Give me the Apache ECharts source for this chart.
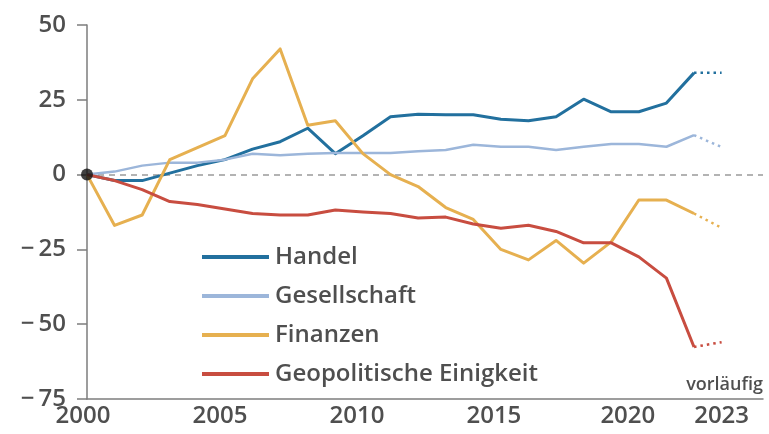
<!DOCTYPE html>
<html>
<head>
<meta charset="utf-8">
<script src="https://cdn.jsdelivr.net/npm/echarts@6/dist/echarts.min.js"></script>
<style>
  html, body { margin: 0; padding: 0; background: #fff; }
  #chart { width: 769px; height: 434px; }
</style>
</head>
<body>
<div id="chart"></div>
<script>
// Index values per year, 2000–2022 (solid), plus a provisional 2023 value (dotted)
const years = [2000, 2001, 2002, 2003, 2004, 2005, 2006, 2007, 2008, 2009, 2010, 2011,
               2012, 2013, 2014, 2015, 2016, 2017, 2018, 2019, 2020, 2021, 2022];

const handel = [0, -2, -2, 0.5, 3, 5, 8.5, 11, 15.5, 7, 13, 19.3,
                20.2, 20, 20, 18.5, 18, 19.3, 25.2, 21, 21, 23.9, 34];
const gesellschaft = [0, 1, 3, 4, 4, 5, 7, 6.5, 7, 7.2, 7.2, 7.2,
                      7.8, 8.2, 10, 9.3, 9.3, 8.2, 9.3, 10.2, 10.2, 9.3, 13.2];
const finanzen = [0, -17, -13.5, 5, 9, 13, 32, 42, 16.5, 18, 7, 0,
                  -4, -11, -15, -25, -28.5, -22, -29.6, -22.5, -8.5, -8.5, -13];
const geopolitik = [0, -2, -5, -9, -10, -11.5, -13, -13.5, -13.5, -11.8, -12.5, -13,
                    -14.5, -14.2, -16.5, -17.9, -16.9, -19, -22.8, -22.8, -27.5, -34.6, -57.6];

// Provisional values for 2023
const provisionalYear = 2023;
const handel2023 = 34;
const gesellschaft2023 = 9.2;
const finanzen2023 = -17.8;
const geopolitik2023 = -56;

const seriesNames = ['Handel', 'Gesellschaft', 'Finanzen', 'Geopolitische Einigkeit'];
const colors = ['#22709e', '#9cb6da', '#e6b050', '#c84d40'];

const xLabels = [2000, 2005, 2010, 2015, 2020, 2023];
const yTicks = [-75, -50, -25, 0, 25, 50];

const solidData = [handel, gesellschaft, finanzen, geopolitik];
const provisionalData = [handel2023, gesellschaft2023, finanzen2023, geopolitik2023];

const pairs = (vals) => years.map((y, i) => [y, vals[i]]);

const textColor = '#4f4f4f';
const font = 'Open Sans';

const series = [];
solidData.forEach((vals, i) => {
  series.push({
    name: seriesNames[i],
    type: 'line',
    data: pairs(vals),
    symbol: 'none',
    color: colors[i],
    lineStyle: { width: i === 1 ? 2.5 : 3, color: colors[i], join: 'round' },
    z: 3 + i,
    markLine: i === 0 ? {
      silent: true,
      symbol: ['none', 'none'],
      label: { show: false },
      lineStyle: { type: [6, 5], color: '#9a9a9a', width: 1.5 },
      data: [{ yAxis: 0 }],
      z: 1
    } : undefined
  });
  // dotted provisional segment
  series.push({
    name: seriesNames[i] + ' (vorläufig)',
    type: 'line',
    data: [[years[years.length - 1], vals[vals.length - 1]], [provisionalYear, provisionalData[i]]],
    symbol: 'none',
    color: colors[i],
    lineStyle: { width: 2.5, type: [2.5, 4], color: colors[i] },
    z: 3 + i
  });
});

// common origin point
series.push({
  type: 'scatter',
  data: [[2000, 0]],
  symbolSize: 12,
  itemStyle: { color: '#111' },
  z: 10
});

// small per-label nudges for the year labels
const xLabelShift = { 2000: 4, 2005: 5, 2010: 6, 2015: 7, 2020: 11, 2023: 0 };

const chart = echarts.init(document.getElementById('chart'));
chart.setOption({
  animation: false,
  backgroundColor: '#fff',
  grid: { left: 87, right: 6, top: 25, bottom: 35, containLabel: false },
  xAxis: {
    type: 'value',
    min: 2000,
    max: 2024.5,
    interval: 1,
    axisLine: { show: true, onZero: false, lineStyle: { color: '#7d7d7d', width: 1.5 } },
    axisTick: { show: false },
    splitLine: { show: false },
    axisLabel: {
      margin: 5,
      color: textColor,
      fontFamily: font,
      fontSize: 24,
      fontWeight: 600,
      showMaxLabel: false,
      formatter: (v) => xLabels.includes(v) ? '{s' + xLabelShift[v] + '|' + v + '}' : '',
      rich: Object.fromEntries(Object.values(xLabelShift).map(s => ['s' + s, {
        color: textColor, fontFamily: font, fontSize: 24, fontWeight: 600,
        padding: [0, 2 * s, 0, 0]
      }]))
    }
  },
  yAxis: {
    type: 'value',
    min: -75,
    max: 50,
    interval: 25,
    axisLine: { show: true, lineStyle: { color: '#7d7d7d', width: 1.5 } },
    axisTick: { show: true, length: 10, lineStyle: { color: '#7d7d7d', width: 1.5 } },
    splitLine: { show: false },
    axisLabel: {
      margin: 21,
      color: textColor,
      fontFamily: font,
      fontSize: 24,
      fontWeight: 600,
      formatter: (v) => yTicks.includes(v) ? (v < 0 ? '\u2212\u2009' + Math.abs(v) : String(v)) : ''
    }
  },
  legend: {
    data: seriesNames,
    orient: 'vertical',
    left: 197,
    top: 240,
    icon: 'rect',
    itemWidth: 67,
    itemHeight: 4,
    itemGap: 15,
    selectedMode: false,
    textStyle: {
      color: textColor,
      fontFamily: font,
      fontSize: 24,
      fontWeight: 600,
      lineHeight: 24,
      padding: [0, 0, 0, 1]
    }
  },
  graphic: [{
    type: 'text',
    right: 6,
    top: 376,
    style: { text: 'vorläufig', fill: textColor, font: '600 18px "Open Sans"' }
  }],
  series: series
});
</script>
</body>
</html>
